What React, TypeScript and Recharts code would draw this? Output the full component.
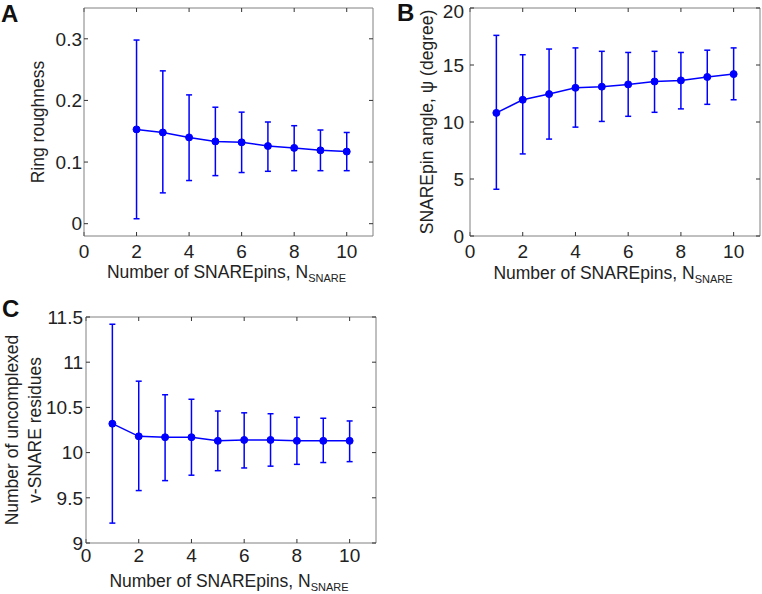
import React from 'react';
import { ComposedChart, Line, XAxis, YAxis, ErrorBar, Label } from 'recharts';

// number of SNAREpins
const nA = [2, 3, 4, 5, 6, 7, 8, 9, 10];
const nBC = [1, 2, 3, 4, 5, 6, 7, 8, 9, 10];

// A: ring roughness
const roughMean = [0.153, 0.148, 0.14, 0.1335, 0.132, 0.126, 0.123, 0.119, 0.117];
const roughLow = [0.008, 0.05, 0.07, 0.078, 0.083, 0.085, 0.086, 0.086, 0.086];
const roughHigh = [0.298, 0.248, 0.209, 0.189, 0.181, 0.165, 0.159, 0.152, 0.148];

// B: SNAREpin angle (degree)
const angleMean = [10.8, 11.95, 12.45, 13.0, 13.1, 13.3, 13.55, 13.65, 13.95, 14.2];
const angleLow = [4.1, 7.2, 8.5, 9.55, 10.05, 10.5, 10.85, 11.15, 11.55, 11.95];
const angleHigh = [17.6, 15.9, 16.4, 16.5, 16.2, 16.1, 16.2, 16.1, 16.3, 16.5];

// C: uncomplexed v-SNARE residues
const residMean = [10.32, 10.18, 10.17, 10.17, 10.13, 10.14, 10.14, 10.13, 10.13, 10.13];
const residLow = [9.22, 9.58, 9.69, 9.75, 9.8, 9.83, 9.85, 9.87, 9.89, 9.9];
const residHigh = [11.42, 10.79, 10.64, 10.59, 10.46, 10.44, 10.43, 10.39, 10.38, 10.35];

const xTicks = [0, 2, 4, 6, 8, 10];
const roughTicks = [0, 0.1, 0.2, 0.3];
const angleTicks = [0, 5, 10, 15, 20];
const residTicks = [9, 9.5, 10, 10.5, 11, 11.5];

const FONT = '"Liberation Sans", Arial, sans-serif';
const TEXT = '#222';
const BLUE = '#0000ff';
const FRAME = '#808080';

function buildRows(n: number[], mean: number[], low: number[], high: number[]) {
  return n.map((v, i) => ({
    n: v,
    mean: mean[i],
    err: [mean[i] - low[i], high[i] - mean[i]],
  }));
}

const xTitle = (dy: number) => (props: any) => {
  const { x, y, width } = props.viewBox;
  return (
    <text x={x + width / 2 - 2} y={y + dy} textAnchor="middle" fontSize={17.5} fill={TEXT} fontFamily={FONT}>
      Number of SNAREpins, N
      <tspan fontSize={11} dy={4}>SNARE</tspan>
    </text>
  );
};

const yTitle = (lines: string[], xs: number[]) => (props: any) => {
  const { y, height } = props.viewBox;
  const cy = y + height / 2;
  return (
    <g>
      {lines.map((t, i) => (
        <text
          key={t}
          x={xs[i]}
          y={cy}
          transform={`rotate(-90 ${xs[i]} ${cy})`}
          textAnchor="middle"
          dominantBaseline="central"
          fontSize={17.5}
          fill={TEXT}
          fontFamily={FONT}
        >
          {t}
        </text>
      ))}
    </g>
  );
};

interface PanelProps {
  rows: { n: number; mean: number; err: number[] }[];
  width: number;
  height: number;
  margin: { top: number; right: number; left: number; bottom: number };
  yWidth: number;
  xHeight: number;
  yDomain: number[];
  yTicks: number[];
  yMargin: number;
  xMargin: number;
  titleDy: number;
  titleLines: string[];
  titleXs: number[];
}

function Panel(p: PanelProps) {
  const tickStyle = { fontSize: 19, fill: TEXT, fontFamily: FONT };
  return (
    <ComposedChart width={p.width} height={p.height} data={p.rows} margin={p.margin}>
      <XAxis
        type="number"
        dataKey="n"
        domain={[0, 11]}
        ticks={xTicks}
        allowDataOverflow
        height={p.xHeight}
        tickSize={-4}
        tickMargin={p.xMargin}
        axisLine={{ stroke: FRAME }}
        tickLine={{ stroke: '#333' }}
        tick={tickStyle}
      >
        <Label content={xTitle(p.titleDy)} />
      </XAxis>
      <XAxis
        xAxisId="top"
        orientation="top"
        type="number"
        dataKey="n"
        domain={[0, 11]}
        ticks={xTicks}
        allowDataOverflow
        height={1}
        tickSize={-4}
        tickFormatter={() => ''}
        axisLine={{ stroke: FRAME }}
        tickLine={{ stroke: '#333' }}
      />
      <YAxis
        type="number"
        domain={p.yDomain}
        ticks={p.yTicks}
        allowDataOverflow
        width={p.yWidth}
        tickSize={-4}
        tickMargin={p.yMargin}
        axisLine={{ stroke: FRAME }}
        tickLine={{ stroke: '#333' }}
        tick={tickStyle}
      >
        <Label content={yTitle(p.titleLines, p.titleXs)} />
      </YAxis>
      <YAxis
        yAxisId="right"
        orientation="right"
        type="number"
        domain={p.yDomain}
        ticks={p.yTicks}
        allowDataOverflow
        width={1}
        tickSize={-4}
        tickFormatter={() => ''}
        axisLine={{ stroke: FRAME }}
        tickLine={{ stroke: '#333' }}
      />
      {/* invisible series so the frame axes on top/right get drawn */}
      <Line
        xAxisId="top"
        yAxisId="right"
        dataKey="mean"
        stroke="none"
        dot={false}
        activeDot={false}
        isAnimationActive={false}
      />
      <Line
        dataKey="mean"
        stroke={BLUE}
        strokeWidth={1.5}
        dot={{ r: 3.5, fill: BLUE, stroke: BLUE, strokeWidth: 1 }}
        activeDot={false}
        isAnimationActive={false}
      >
        <ErrorBar dataKey="err" direction="y" width={3} stroke={BLUE} strokeWidth={1.5} isAnimationActive={false} />
      </Line>
    </ComposedChart>
  );
}

const panelLetter = (t: string, left: number, top: number) => (
  <div
    style={{
      position: 'absolute',
      left,
      top,
      fontFamily: FONT,
      fontWeight: 'bold',
      fontSize: 24,
      lineHeight: 1,
      color: '#111',
    }}
  >
    {t}
  </div>
);

export default function App() {
  return (
    <div style={{ position: 'absolute', left: 0, top: 0, width: 762, height: 594, background: '#fff' }}>
      <div style={{ position: 'absolute', left: 0, top: 0 }}>
        <Panel
          rows={buildRows(nA, roughMean, roughLow, roughHigh)}
          width={380}
          height={290}
          margin={{ top: 7, right: 6, left: 0, bottom: 0 }}
          yWidth={84}
          xHeight={54}
          yDomain={[-0.02, 0.35]}
          yTicks={roughTicks}
          yMargin={6}
          xMargin={13}
          titleDy={42}
          titleLines={['Ring roughness']}
          titleXs={[38]}
        />
      </div>
      <div style={{ position: 'absolute', left: 380, top: 0 }}>
        <Panel
          rows={buildRows(nBC, angleMean, angleLow, angleHigh)}
          width={382}
          height={290}
          margin={{ top: 7, right: 1, left: 0, bottom: 0 }}
          yWidth={90}
          xHeight={54}
          yDomain={[0, 20]}
          yTicks={angleTicks}
          yMargin={10}
          xMargin={13}
          titleDy={43}
          titleLines={['SNAREpin angle, \u03c8 (degree)']}
          titleXs={[47]}
        />
      </div>
      <div style={{ position: 'absolute', left: 0, top: 290 }}>
        <Panel
          rows={buildRows(nBC, residMean, residLow, residHigh)}
          width={380}
          height={304}
          margin={{ top: 26, right: 3, left: 0, bottom: 0 }}
          yWidth={86}
          xHeight={51}
          yDomain={[9, 11.5]}
          yTicks={residTicks}
          yMargin={7}
          xMargin={10}
          titleDy={44}
          titleLines={['Number of uncomplexed', 'v-SNARE residues']}
          titleXs={[12, 35]}
        />
      </div>
      {panelLetter('A', 1, 2)}
      {panelLetter('B', 397, 1)}
      {panelLetter('C', 2, 297)}
    </div>
  );
}
